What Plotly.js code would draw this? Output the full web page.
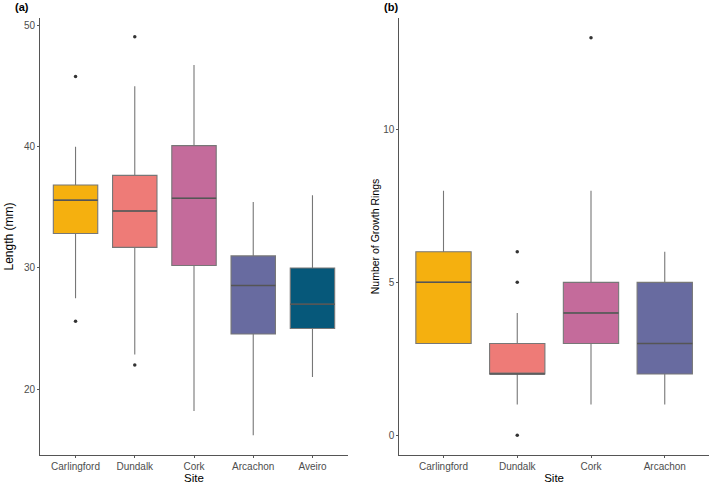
<!DOCTYPE html>
<html>
<head>
<meta charset="utf-8">
<script src="https://cdn.plot.ly/plotly-3.0.1.min.js"></script>
<style>html,body{margin:0;padding:0;background:#fff;}#chart{width:709px;height:484px;}</style>
</head>
<body>
<div id="chart"></div>
<script>
// Panel (a): Length (mm)
const sitesA = ["Carlingford", "Dundalk", "Cork", "Arcachon", "Aveiro"];
const lenLowerWhisker = [27.5, 22.85, 18.2, 16.2, 21.0];
const lenQ1 = [32.85, 31.7, 30.2, 24.55, 25.0];
const lenMedian = [35.6, 34.7, 35.75, 28.55, 27.0];
const lenQ3 = [36.85, 37.65, 40.1, 31.0, 30.0];
const lenUpperWhisker = [40.0, 45.0, 46.75, 35.45, 36.0];
const lenOutlierSite = ["Carlingford", "Carlingford", "Dundalk", "Dundalk"];
const lenOutlierValue = [45.8, 25.6, 49.1, 22.0];

// Panel (b): Number of Growth Rings
const sitesB = ["Carlingford", "Dundalk", "Cork", "Arcachon"];
const ringLowerWhisker = [3, 1, 1, 1];
const ringQ1 = [3, 2, 3, 2];
const ringMedian = [5, 2, 4, 3];
const ringQ3 = [6, 3, 5, 5];
const ringUpperWhisker = [8, 4, 8, 6];
const ringOutlierSite = ["Dundalk", "Dundalk", "Dundalk", "Cork"];
const ringOutlierValue = [6, 5, 0, 13];

const siteColors = {
  "Carlingford": "#F5B00F",
  "Dundalk": "#EE7B77",
  "Cork": "#C46B9B",
  "Arcachon": "#686BA0",
  "Aveiro": "#06587A"
};

const traces = [];
function addBoxes(sites, lw, q1, med, q3, uw, xa, ya) {
  sites.forEach((s, i) => {
    traces.push({
      type: "box",
      name: s,
      x: [s],
      lowerfence: [lw[i]],
      q1: [q1[i]],
      median: [med[i]],
      q3: [q3[i]],
      upperfence: [uw[i]],
      boxpoints: false,
      width: 0.75,
      whiskerwidth: 0,
      fillcolor: siteColors[s],
      line: {color: "#777777", width: 1.1},
      xaxis: xa, yaxis: ya,
      showlegend: false,
      hoverinfo: "skip"
    });
  });
  // darker median line drawn on top
  sites.forEach((s, i) => {
    traces.push({
      type: "box",
      name: s + " median",
      x: [s],
      lowerfence: [med[i]], q1: [med[i]], median: [med[i]], q3: [med[i]], upperfence: [med[i]],
      boxpoints: false,
      width: 0.75,
      whiskerwidth: 0,
      fillcolor: "rgba(0,0,0,0)",
      line: {color: "#555555", width: 1.5},
      xaxis: xa, yaxis: ya,
      showlegend: false,
      hoverinfo: "skip"
    });
  });
}
addBoxes(sitesA, lenLowerWhisker, lenQ1, lenMedian, lenQ3, lenUpperWhisker, "x", "y");
addBoxes(sitesB, ringLowerWhisker, ringQ1, ringMedian, ringQ3, ringUpperWhisker, "x2", "y2");

traces.push({
  type: "scatter", mode: "markers",
  x: lenOutlierSite, y: lenOutlierValue,
  marker: {color: "#333333", size: 3.5},
  xaxis: "x", yaxis: "y", showlegend: false, hoverinfo: "skip"
});
traces.push({
  type: "scatter", mode: "markers",
  x: ringOutlierSite, y: ringOutlierValue,
  marker: {color: "#333333", size: 3.5},
  xaxis: "x2", yaxis: "y2", showlegend: false, hoverinfo: "skip"
});

const FAM = "Liberation Sans, Arial, sans-serif";
const tickFont = {family: FAM, size: 10, color: "#4d4d4d"};
const axisCommon = {
  showgrid: false, zeroline: false, showline: true,
  linecolor: "#555", linewidth: 1,
  ticks: "outside", ticklen: 2, tickcolor: "#555", tickwidth: 1,
  tickfont: tickFont
};

const layout = {
  width: 709, height: 484,
  margin: {l: 40, r: 0, t: 18, b: 29},
  paper_bgcolor: "#fff", plot_bgcolor: "#fff",
  font: {family: FAM},
  boxmode: "overlay",
  xaxis: Object.assign({}, axisCommon, {
    domain: [0, 0.4604], type: "category",
    categoryorder: "array", categoryarray: sitesA,
    range: [-0.6, 4.6],
    title: {text: "Site", font: {family: FAM, size: 11.5, color: "#000"}, standoff: 2}
  }),
  yaxis: Object.assign({}, axisCommon, {
    range: [14.56, 50.64], tickvals: [20, 30, 40, 50],
    title: {text: "Length (mm)", font: {family: FAM, size: 12, color: "#000"}, standoff: 7}
  }),
  xaxis2: Object.assign({}, axisCommon, {
    domain: [0.537, 1], type: "category", anchor: "y2",
    categoryorder: "array", categoryarray: sitesB,
    range: [-0.6, 3.6],
    title: {text: "Site", font: {family: FAM, size: 11.5, color: "#000"}, standoff: 2}
  }),
  yaxis2: Object.assign({}, axisCommon, {
    anchor: "x2",
    range: [-0.65, 13.65], tickvals: [0, 5, 10],
    title: {text: "Number of Growth Rings", font: {family: FAM, size: 10.5, color: "#000"}, standoff: 1}
  }),
  annotations: [
    {text: "<b>(a)</b>", xref: "paper", yref: "paper", x: -0.041, y: 1.025,
     xanchor: "left", yanchor: "middle", showarrow: false,
     font: {family: FAM, size: 11, color: "#000"}},
    {text: "<b>(b)</b>", xref: "paper", yref: "paper", x: 0.511, y: 1.025,
     xanchor: "left", yanchor: "middle", showarrow: false,
     font: {family: FAM, size: 11, color: "#000"}}
  ]
};

Plotly.newPlot("chart", traces, layout, {displayModeBar: false, staticPlot: true});
</script>
</body>
</html>
